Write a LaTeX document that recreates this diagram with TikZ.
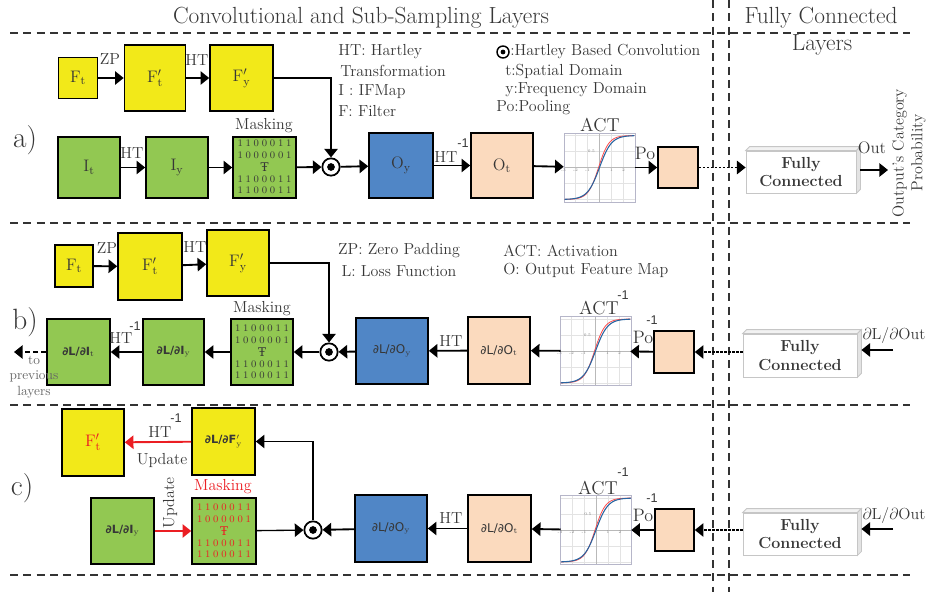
\documentclass[tikz,border=0pt]{standalone}
\usepackage{fontspec}
\usetikzlibrary{arrows.meta}
\newfontfamily\dvs{DejaVu Sans}
\newfontfamily\dvser{DejaVu Serif}
\newfontfamily\arial{Liberation Sans}
\definecolor{yel}{RGB}{242,233,25}
\definecolor{grn}{RGB}{146,200,82}
\definecolor{blu}{RGB}{80,134,198}
\definecolor{pch}{RGB}{251,218,190}
\definecolor{txt}{RGB}{55,55,55}
\definecolor{redc}{RGB}{235,30,35}
\definecolor{plotblue}{RGB}{40,100,160}
\tikzset{
 sz/.style 2 args={minimum width=#1*0.75pt, minimum height=#2*0.75pt},
 bx/.style={draw=black, line width=1.2pt, inner sep=0pt, text=txt, font=\fontsize{12.5}{15}\selectfont},
 cnv/.style={draw, circle, line width=1.3pt, fill=white, minimum size=13pt, inner sep=0pt},
 arr/.style={line width=1.4pt, -{Triangle[length=6.5pt,width=10pt]}},
 lbl/.style={text=txt, font=\fontsize{12}{14}\selectfont, inner sep=0pt},
 big/.style={text=txt, font=\fontsize{13.5}{15}\selectfont, inner sep=0pt},
 ttl/.style={text=txt, font=\fontsize{17.5}{19}\selectfont, inner sep=0pt},
 supl/.style={text=txt, font=\arial\fontsize{9.5}{10}\selectfont, inner sep=0pt},
 sepl/.style={dash pattern=on 6pt off 4pt, line width=0.8pt, black!80},
 dotl/.style={dash pattern=on 1.6pt off 1.4pt},
 fc/.style={draw=gray!45, line width=0.6pt, fill=white, align=center, text=txt, font=\bfseries\fontsize{12}{14}\selectfont, inner sep=0pt},
 sans/.style={font=\dvs\fontsize{9}{10}\selectfont},
 sansb/.style={font=\dvs\bfseries\fontsize{8.5}{10}\selectfont},
}
\newcommand{\mrow}[7]{\makebox[40.5pt]{#1\hfill#2\hfill#3\hfill#4\hfill#5\hfill#6\hfill#7}}
\newcommand{\fcdepth}[1]{%
 \filldraw[fill=gray!10, draw=gray!45, line width=0.6pt] (#1.north west) -- ++(4,-4) -- ([shift={(4,-4)}]#1.north east) -- (#1.north east) -- cycle;
 \filldraw[fill=gray!22, draw=gray!45, line width=0.6pt] (#1.north east) -- ++(4,-4) -- ([shift={(4,-4)}]#1.south east) -- (#1.south east) -- cycle;}
\newcommand{\maskgrid}[2]{%
 \foreach \ry/\rt [count=\k] in {-24/{\mrow1100011},-12/{\mrow1000001},12/{\mrow1100011},23/{\mrow1100011}}
  \node[inner sep=0pt, text=#2, font=\fontsize{7.5}{8}\selectfont] (#1r\k) at ([shift={(0,\ry)}]#1) {\rt};
 \node[inner sep=0pt, text=#2, font=\dvser\fontsize{9}{9}\selectfont] (#1mid) at (#1) {Ŧ};}
\newcommand{\actplot}[1]{%
 \begin{scope}[shift={(#1)}, x=9pt, y=24pt]
  \fill[white] (-2.95,-1.08) rectangle (2.95,1.08);
  \draw[gray!22, line width=0.3pt] \foreach \gx in {-2,-1,1,2} {(\gx,-1.08) -- (\gx,1.08)} \foreach \gy in {-1,-0.5,0.5,1} {(-2.95,\gy) -- (2.95,\gy)};
  \draw[gray!55, line width=0.35pt] (-2.95,0) -- (2.95,0) (0,-1.08) -- (0,1.08);
  \draw[blue!15!gray!50, line width=0.6pt] (-2.95,-1.08) rectangle (2.95,1.08);
  \foreach \gx [count=\k] in {-3,-2,-1,1,2} \node[font=\fontsize{3}{3}\selectfont, text=gray, inner sep=0.6pt, anchor=north] (#1tk\k) at (\gx,0) {\gx};
  \node[font=\fontsize{3}{3}\selectfont, text=gray, inner sep=0.6pt, anchor=east] (#1ty) at (-0.3,0.5) {0.5};
  \draw[red!70, line width=0.6pt] plot[domain=-2.9:2.9, samples=60, smooth] (\x,{tanh(1.15*(\x+0.08))});
  \draw[plotblue, line width=0.8pt] plot[domain=-2.9:2.9, samples=60, smooth] (\x,{tanh(\x)});
 \end{scope}}
\begin{document}
\begin{tikzpicture}[x=0.75pt,y=-0.75pt]
\useasboundingbox (0,0) rectangle (928,592);
% separators
\draw[sepl] (10,33) -- (910,33);
\draw[sepl] (10,223) -- (910,223);
\draw[sepl] (10,405) -- (910,405);
\draw[sepl] (10,575) -- (910,575);
\draw[sepl] (713,0) -- (713,592);
\draw[sepl] (729,0) -- (729,592);
% titles
\node[ttl] (t1) at (361,18) {Convolutional and Sub-Sampling Layers};
\node[ttl] (t2) at (821,18) {Fully Connected};
\node[ttl] (t3) at (822,45) {Layers};
% ================= row a
\node[ttl, font=\fontsize{22}{24}\selectfont] (ra) at (25,140) {a)};
\node[bx, fill=yel, sz={39}{41}] (fta) at (78,78) {$\mathrm{F_t}$};
\node[bx, fill=yel, sz={61}{66}] (ftpa) at (155,78) {$\mathrm{F'_t}$};
\node[bx, fill=yel, sz={63}{66}] (fypa) at (241.5,78) {$\mathrm{F'_y}$};
\node[bx, fill=grn, sz={62}{61}] (ita) at (89,167.5) {$\mathrm{I_t}$};
\node[bx, fill=grn, sz={62}{61}] (iya) at (177,167.5) {$\mathrm{I_y}$};
\node[bx, fill=grn, sz={63}{61}] (mska) at (264.5,167.5) {};
\maskgrid{mska}{txt}
\node[cnv] (cira) at (331,167) {};
\fill (cira) circle (2.9pt);
\node[bx, fill=blu, sz={64}{65}] (oya) at (401,165.5) {$\mathrm{O_y}$};
\node[bx, fill=pch, sz={62}{65}] (ota) at (502,165.5) {$\mathrm{O_t}$};
\node[sz={71}{69}, inner sep=0pt] (acta) at (599.5,167.5) {};
\actplot{acta}
\node[bx, fill=pch, sz={40}{41}] (poa) at (678,167.5) {};
\node[fc, sz={110}{42}] (fca) at (801,172) {Fully\\Connected};
\fcdepth{fca}
\coordinate (fcar) at ([xshift=3pt]fca.east);
\coordinate (outa) at (888,170);
% labels a
\node[lbl] (zpa) at (110,59) {ZP};
\node[lbl] (hta1) at (197,60) {HT};
\node[lbl] (hta2) at (132,153) {HT};
\node[lbl] (mkla) at (264,126) {Masking};
\node[lbl] (hta3) at (446,157) {HT};
\node[supl] (hta3s) at (463,143) {-1};
\node[big, font=\fontsize{14}{15}\selectfont] (acla) at (600,125) {ACT};
\node[big] (pola) at (645,153) {Po};
\node[lbl, font=\fontsize{12.5}{14}\selectfont] (outl) at (872,148) {Out};
\node[lbl, rotate=90, align=center] (prob) at (909,153) {Output's Category\\Probability};
% legend a
\node[lbl, anchor=west] (lg1) at (338,52) {HT: Hartley};
\node[lbl, anchor=west] (lg2) at (340,71) {Transformation};
\node[lbl, anchor=west] (lg3) at (338,92) {I : IFMap};
\node[lbl, anchor=west] (lg4) at (338,111) {F: Filter};
\node[cnv, minimum size=9pt, line width=1.1pt] (lgc) at (503,52) {};
\fill (lgc) circle (1.8pt);
\node[lbl, anchor=west] (lg5) at (510,52) {:Hartley Based Convolution};
\node[lbl, anchor=west] (lg6) at (505,71) {t:Spatial Domain};
\node[lbl, anchor=west] (lg7) at (505,90) {y:Frequency Domain};
\node[lbl, anchor=west] (lg8) at (496,108) {Po:Pooling};
% connectors a
\draw[arr] (fta) -- (ftpa);
\draw[arr] (ftpa) -- (fypa);
\draw[arr] (fypa.east) -| (cira.north);
\draw[arr] (ita) -- (iya);
\draw[arr] (iya) -- (mska);
\draw[arr] (mska) -- (cira);
\draw[arr] (cira) -- (oya);
\draw[arr] (oya) -- (ota);
\draw[arr] (ota) -- (acta);
\draw[arr] (acta) -- (poa);
\draw[arr, dotl] (poa.east) -- (poa.east -| fca.west);
\draw[arr] (fcar |- outa) -- (outa);
% ================= row b
\node[ttl, font=\fontsize{22}{24}\selectfont] (rb) at (25,322) {b)};
\node[bx, fill=yel, sz={38}{42}] (ftb) at (74,266) {$\mathrm{F_t}$};
\node[bx, fill=yel, sz={64}{67}] (ftpb) at (150,266.5) {$\mathrm{F'_t}$};
\node[bx, fill=yel, sz={62}{66}] (fypb) at (238,263) {$\mathrm{F'_y}$};
\node[bx, fill=grn, sz={63}{66}, sansb] (ditb) at (78.5,352) {∂L/∂I$_{\mathrm{t}}$};
\node[bx, fill=grn, sz={61}{66}, sansb] (diyb) at (173.5,352) {∂L/∂I$_{\mathrm{y}}$};
\node[bx, fill=grn, sz={62}{66}] (mskb) at (262,352) {};
\maskgrid{mskb}{txt}
\node[cnv] (cirb) at (329,352) {};
\fill (cirb) circle (2.9pt);
\node[bx, fill=blu, sz={72}{66}, sans] (doyb) at (392,351) {∂L/∂O$_{\mathrm{y}}$};
\node[bx, fill=pch, sz={62}{67}, sans] (dotb) at (499,350.5) {∂L/∂O$_{\mathrm{t}}$};
\node[sz={69}{68}, inner sep=0pt] (actb) at (595.5,351) {};
\actplot{actb}
\node[bx, fill=pch, sz={40}{42}] (pob) at (674,352) {};
\node[fc, sz={114}{43}] (fcb) at (800,355.5) {Fully\\Connected};
\fcdepth{fcb}
\coordinate (fcbr) at ([xshift=3pt]fcb.east);
\coordinate (inb) at (893,350);
\coordinate (prevb) at (14,352);
% labels b
\node[lbl] (zpb) at (107,248) {ZP};
\node[lbl] (htb1) at (195,247) {HT};
\node[lbl] (mklb) at (262,309) {Masking};
\node[lbl] (htb2) at (121,338) {HT};
\node[supl] (htb2s) at (135,326) {-1};
\node[lbl, text=black!60, font=\fontsize{10}{11.5}\selectfont, align=center] (prevl) at (34,377) {to\\previous\\layers};
\node[lbl] (htb3) at (451,341) {HT};
\node[big, font=\fontsize{14}{15}\selectfont] (aclb) at (599,308) {ACT};
\node[supl] (aclbs) at (623,295) {-1};
\node[big] (polb) at (643,337) {Po};
\node[supl] (polbs) at (652,320) {-1};
\node[lbl] (dob) at (894,335) {$\partial\mathrm{L}/\partial\mathrm{Out}$};
\node[lbl] (lg9) at (399,251) {ZP: Zero Padding};
\node[lbl] (lg10) at (399,271) {L: Loss Function};
\node[lbl, anchor=west] (lg11) at (503,251) {ACT: Activation};
\node[lbl, anchor=west] (lg12) at (503,270) {O: Output Feature Map};
% connectors b
\draw[arr] (ftb) -- (ftpb);
\draw[arr] (ftpb) -- (fypb);
\draw[arr] (fypb.east) -| (cirb.north);
\draw[arr] (doyb) -- (cirb);
\draw[arr] (cirb) -- (mskb);
\draw[arr] (mskb) -- (diyb);
\draw[arr] (diyb) -- (ditb);
\draw[arr, dash pattern=on 4pt off 2pt] (ditb.west) -- (prevb);
\draw[arr] (dotb) -- (doyb);
\draw[arr] (actb) -- (dotb);
\draw[arr] (pob) -- (actb);
\draw[arr, dotl] (fcb.west |- pob.east) -- (pob.east);
\draw[arr] (inb) -- (inb -| fcbr);
% ================= row c
\node[ttl, font=\fontsize{22}{24}\selectfont] (rc) at (22,488) {c)};
\node[bx, fill=yel, sz={62}{67}, text=redc] (ftpc) at (93,442.5) {$\mathrm{F'_t}$};
\node[bx, fill=yel, sz={63}{67}, sansb] (dfyc) at (223.5,441.5) {∂L/∂F$'_{\mathrm{y}}$};
\node[bx, fill=grn, sz={63}{66}, sansb] (diyc) at (122.5,531) {∂L/∂I$_{\mathrm{y}}$};
\node[bx, fill=grn, sz={64}{66}] (mskc) at (224,531) {};
\maskgrid{mskc}{redc}
\node[cnv] (circ) at (313,530) {};
\fill (circ) circle (2.9pt);
\node[bx, fill=blu, sz={72}{67}, sans] (doyc) at (391,528.5) {∂L/∂O$_{\mathrm{y}}$};
\node[bx, fill=pch, sz={63}{67}, sans] (dotc) at (499.5,528.5) {∂L/∂O$_{\mathrm{t}}$};
\node[sz={70}{70}, inner sep=0pt] (actc) at (596,530) {};
\actplot{actc}
\node[bx, fill=pch, sz={39}{42}] (poc) at (674.5,530) {};
\node[fc, sz={114}{42}] (fcc) at (800,534) {Fully\\Connected};
\fcdepth{fcc}
\coordinate (fccr) at ([xshift=3pt]fcc.east);
\coordinate (inc) at (893,529);
% labels c
\node[lbl] (htc1) at (160,432) {HT};
\node[supl] (htc1s) at (176,418) {-1};
\node[lbl] (upc1) at (162,460) {Update};
\node[lbl, rotate=90] (upc2) at (170,503) {Update};
\node[lbl, text=redc] (mklc) at (223,487) {Masking};
\node[lbl] (htc2) at (451,518) {HT};
\node[big, font=\fontsize{14}{15}\selectfont] (aclc) at (598,488) {ACT};
\node[supl] (aclcs) at (623,472) {-1};
\node[big] (polc) at (643,515) {Po};
\node[supl] (polcs) at (652,498) {-1};
\node[lbl] (doc) at (894,515) {$\partial\mathrm{L}/\partial\mathrm{Out}$};
% connectors c
\draw[arr, redc] (dfyc) -- (ftpc);
\draw[arr, redc] (diyc) -- (mskc);
\draw[arr, line width=1pt] (mskc) -- (circ);
\draw[arr] (doyc) -- (circ);
\draw[arr] (circ.north) |- (dfyc.east);
\draw[arr] (dotc) -- (doyc);
\draw[arr] (actc) -- (dotc);
\draw[arr] (poc) -- (actc);
\draw[arr, dotl] (fcc.west |- poc.east) -- (poc.east);
\draw[arr] (inc) -- (inc -| fccr);
\end{tikzpicture}
\end{document}
